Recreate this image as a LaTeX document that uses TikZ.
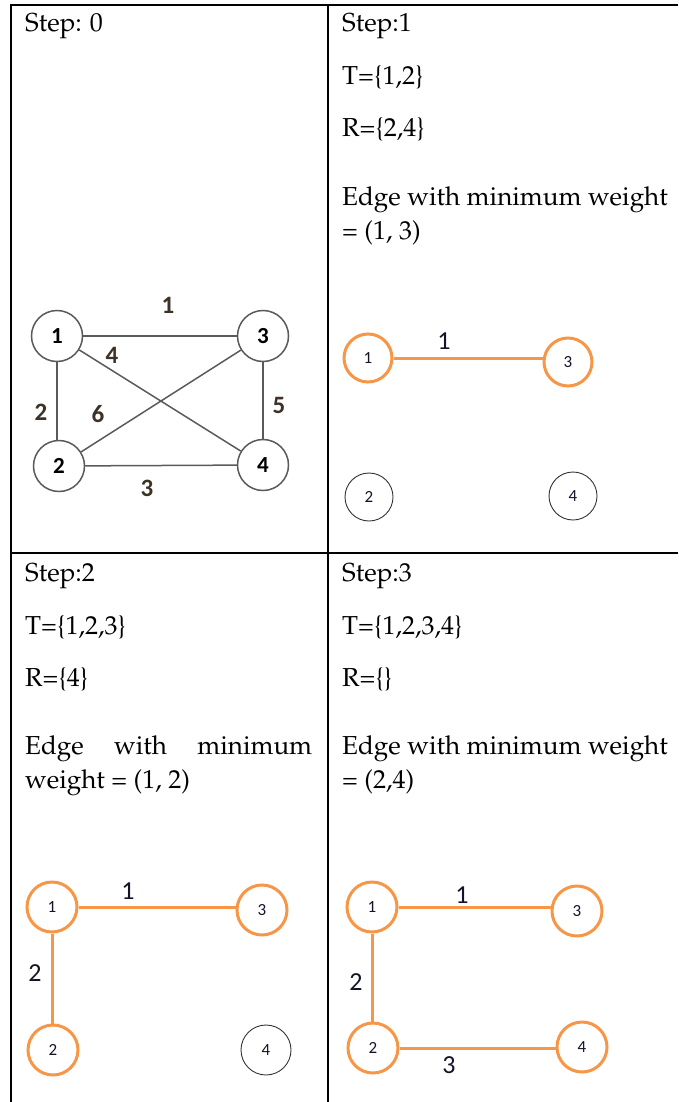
\documentclass[tikz,border=0pt]{standalone}
\usepackage{fontspec}
\newfontfamily\calib{Carlito}
\usepackage[T1]{fontenc}
\usepackage{mathpazo}
\definecolor{orng}{RGB}{247,150,70}
\definecolor{gline}{RGB}{90,90,90}
\definecolor{wlab}{RGB}{60,50,40}
\definecolor{nav}{RGB}{20,20,40}
\begin{document}
\begin{tikzpicture}[x=1pt,y=-1pt,
  txt/.style={anchor=base west,inner sep=0pt,font=\fontsize{26}{34}\selectfont},
  rule/.style={line width=2pt,black},
  gnode/.style={circle,draw=gline,line width=1.5pt,minimum size=51pt,inner sep=0pt,font=\calib\bfseries\fontsize{23}{23}\selectfont},
  gedge/.style={draw=gline,line width=1.5pt},
  glab/.style={text=wlab,inner sep=0pt,font=\calib\bfseries\fontsize{25}{25}\selectfont},
  onode/.style={circle,draw=orng,line width=3pt,minimum size=48pt,inner sep=0pt,text=nav,font=\calib\fontsize{17}{17}\selectfont},
  bnode/.style={circle,draw=black!80,line width=0.9pt,minimum size=48pt,inner sep=0pt,text=nav,font=\calib\fontsize{17}{17}\selectfont},
  oedge/.style={draw=orng,line width=3pt},
  olab/.style={text=nav,inner sep=0pt,font=\calib\fontsize{26}{26}\selectfont}]
\useasboundingbox (0,0) rectangle (678,1102);
% table rules
\coordinate (tl) at (10,5);
\coordinate (tr) at (678,5);
\coordinate (bl) at (11,1102);
\coordinate (tm) at (328,5);
\coordinate (bm) at (328,1102);
\coordinate (ml) at (11,553);
\coordinate (mr) at (678,553);
\draw[rule] (tl) -- (tr);
\draw[rule] (11,4) -- (bl);
\draw[rule] (tm) -- (bm);
\draw[rule] (ml) -- (mr);
% texts
\node[txt] (t0) at (25,32) {Step: 0};
\node[txt] (t1a) at (342,32) {Step:1};
\node[txt] (t1b) at (342,85) {T=\{1,2\}};
\node[txt] (t1c) at (342,137) {R=\{2,4\}};
\node[txt] (t1d) at (342,205) {Edge with minimum weight};
\node[txt] (t1e) at (342,239) {= (1, 3)};
\node[txt] (t2a) at (25,581) {Step:2};
\node[txt] (t2b) at (25,634) {T=\{1,2,3\}};
\node[txt] (t2c) at (25,686) {R=\{4\}};
\node[txt] (t2d) at (25,754) {\makebox[287pt][s]{Edge with minimum}};
\node[txt] (t2e) at (25,788) {weight = (1, 2)};
\node[txt] (t3a) at (342,581) {Step:3};
\node[txt] (t3b) at (342,634) {T=\{1,2,3,4\}};
\node[txt] (t3c) at (342,686) {R=\{\}};
\node[txt] (t3d) at (342,754) {Edge with minimum weight};
\node[txt] (t3e) at (342,788) {= (2,4)};
% step 0 graph
\node[gnode] (a1) at (57,336) {1};
\node[gnode] (a3) at (263,336) {3};
\node[gnode] (a2) at (59,466) {2};
\node[gnode] (a4) at (263,465) {4};
\draw[gedge] (a1) -- (a3);
\draw[gedge] (a1.south) -- (a1.south |- a2.north);
\draw[gedge] (a3.south) -- (a3.south |- a4.north);
\draw[gedge] (a2) -- (a4);
\draw[gedge] (a1) -- (a4);
\draw[gedge] (a2) -- (a3);
\node[glab] (w13) at (168,305) {1};
\node[glab] (w14) at (112,355) {4};
\node[glab] (w12) at (41,412) {2};
\node[glab] (w23) at (98,414) {6};
\node[glab] (w34) at (279,405) {5};
\node[glab] (w24) at (147,488) {3};
% step 1 graph
\node[onode] (b1) at (368,358) {1};
\node[onode] (b3) at (568,362) {3};
\node[bnode] (b2) at (369,497) {2};
\node[bnode] (b4) at (573,496) {4};
\draw[oedge] (b1.east) -- (b3.west |- b1.east);
\node[olab] (v13) at (444,341) {1};
% step 2 graph
\node[onode,minimum size=50pt] (c1) at (52,907) {1};
\node[onode,minimum size=50pt] (c3) at (262,910) {3};
\node[onode,minimum size=50pt] (c2) at (53,1050) {2};
\node[bnode,minimum size=50pt] (c4) at (266,1050) {4};
\draw[oedge] (c1.east) -- (c3.west |- c1.east);
\draw[oedge] (c1.south) -- (c1.south |- c2.north);
\node[olab] (u13) at (128,891) {1};
\node[olab] (u12) at (35,973) {2};
% step 3 graph
\node[onode,minimum size=50pt] (d1) at (372,907) {1};
\node[onode,minimum size=50pt] (d3) at (577,911) {3};
\node[onode,minimum size=50pt] (d2) at (373,1048) {2};
\node[onode,minimum size=50pt] (d4) at (582,1047) {4};
\draw[oedge] (d1.east) -- (d3.west |- d1.east);
\draw[oedge] (d1.south) -- (d1.south |- d2.north);
\draw[oedge] (d2.east) -- (d4.west |- d2.east);
\node[olab] (x13) at (462,895) {1};
\node[olab] (x12) at (356,982) {2};
\node[olab] (x24) at (449,1065) {3};
\end{tikzpicture}
\end{document}
